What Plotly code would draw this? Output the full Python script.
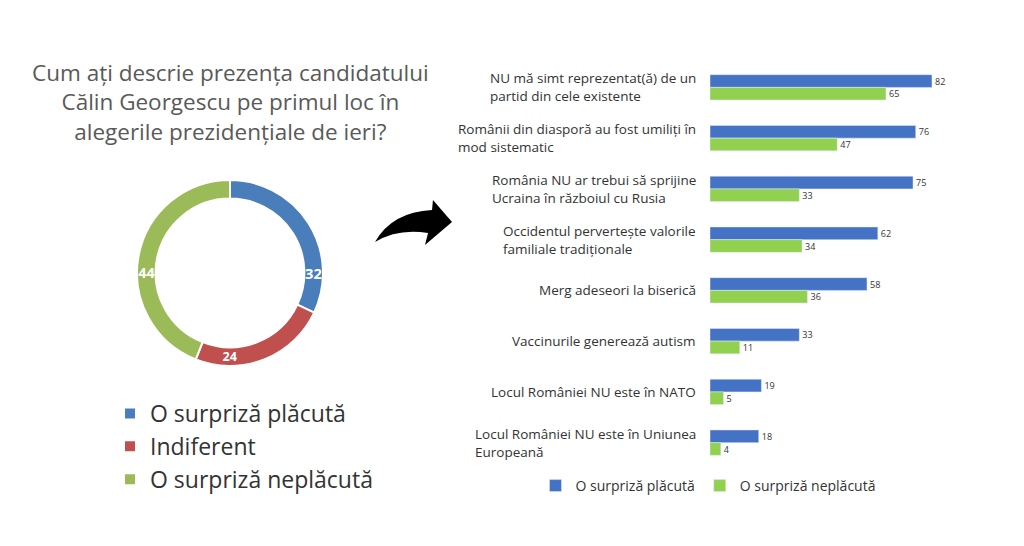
import plotly.graph_objects as go

W, H = 1024, 546
OFF = 8  # page body margin around the plot div

pie_labels = ["O surpriză plăcută", "Indiferent", "O surpriză neplăcută"]
pie_values = [32, 24, 44]
pie_colors = ["#4a7ebb", "#c0504d", "#9bbb59"]

categories = [
    "NU mă simt reprezentat(ă) de un<br>partid din cele existente",
    "Românii din diasporă au fost umiliți în<br>mod sistematic",
    "România NU ar trebui să sprijine<br>Ucraina în războiul cu Rusia",
    "Occidentul pervertește valorile<br>familiale tradiționale",
    "Merg adeseori la biserică",
    "Vaccinurile generează autism",
    "Locul României NU este în NATO",
    "Locul României NU este în Uniunea<br>Europeană",
]
placuta = [82, 76, 75, 62, 58, 33, 19, 18]
neplacuta = [65, 47, 33, 34, 36, 11, 5, 4]


def px_x(v):
    return (v - OFF) / W


def px_y(v):
    return 1 - (v - OFF) / H


fig = go.Figure()

fig.add_trace(go.Pie(
    labels=pie_labels, values=pie_values, hole=0.8, sort=False,
    direction="clockwise", rotation=0,
    marker=dict(colors=pie_colors, line=dict(color="white", width=2)),
    texttemplate="<b>%{value}</b>", textposition="inside",
    textfont=dict(color="white", size=20, family="Open Sans"),
    insidetextorientation="horizontal",
    domain=dict(x=[px_x(136), px_x(324)], y=[px_y(366), px_y(180)]),
    legend="legend",
))

fig.add_trace(go.Bar(
    y=categories, x=placuta, orientation="h", name="O surpriză plăcută",
    marker_color="#4472c4", text=placuta, textposition="outside",
    textfont=dict(size=10, color="#333"), cliponaxis=False, legend="legend2",
))
fig.add_trace(go.Bar(
    y=categories, x=neplacuta, orientation="h", name="O surpriză neplăcută",
    marker_color="#92d050", text=neplacuta, textposition="outside",
    textfont=dict(size=10, color="#333"), cliponaxis=False, legend="legend2",
))

# category labels: left-aligned lines, block ending just left of the bars
for cat in categories:
    fig.add_annotation(x=px_x(698), y=cat, xref="paper", yref="y", text=cat,
                       showarrow=False, xanchor="right", align="left",
                       font=dict(size=13.5, color="#333"))

# curved arrow between the two panels, given in pixels then mapped to paper
pts = "M 375 242 Q 392 212 432 210 L 433 200 L 452 222 L 425 245 L 428 233 Q 398 228 375 242 Z"
tokens = pts.split(" ")
out = []
i = 0
while i < len(tokens):
    t = tokens[i]
    if t.isalpha():
        out.append(t)
        i += 1
    else:
        out.append(f"{px_x(float(t)):.4f},{px_y(float(tokens[i+1])):.4f}")
        i += 2
fig.add_shape(type="path", xref="paper", yref="paper", path=" ".join(out),
              fillcolor="black", line_width=0)

fig.add_annotation(
    x=px_x(230), y=px_y(102), xref="paper", yref="paper", showarrow=False,
    xanchor="center", yanchor="middle",
    text="Cum ați descrie prezența candidatului<br>Călin Georgescu pe primul loc în<br>alegerile prezidențiale de ieri?",
    font=dict(size=22.5, color="#595959", family="Open Sans"), align="center",
)

fig.update_layout(
    width=W, height=H, margin=dict(l=0, r=0, t=0, b=0, autoexpand=False),
    paper_bgcolor="white", plot_bgcolor="white",
    font=dict(family="Open Sans", color="#333"),
    barmode="group", bargap=0.5, bargroupgap=0,
    xaxis=dict(domain=[px_x(710), 1.0], range=[0, (W - 702) / 2.707], visible=False),
    yaxis=dict(domain=[px_y(468), px_y(62)], autorange="reversed",
               showticklabels=False, showline=False, ticks=""),
    legend=dict(x=px_x(110), y=px_y(392), xanchor="left", yanchor="top",
                font=dict(size=23, color="#333"), tracegroupgap=0, itemwidth=30),
    legend2=dict(orientation="h", x=px_x(708), y=px_y(470), xanchor="center",
                 yanchor="top", font=dict(size=14, color="#333")),
)

fig.write_html("out.html")
